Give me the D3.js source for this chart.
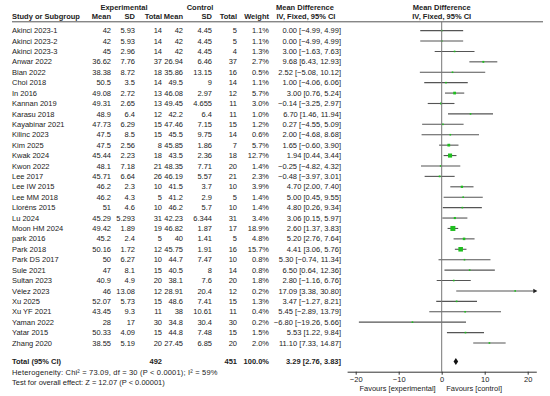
<!DOCTYPE html>
<html>
<head>
<meta charset="utf-8">
<script src="https://cdn.jsdelivr.net/npm/d3@7"></script>
<style>
  body { margin: 0; background: #fff; }
  text { font-family: "Liberation Sans", Arial, sans-serif; font-size: 7.5px; fill: #222; }
  .b { font-weight: bold; }
</style>
</head>
<body>
<div id="plot"></div>
<script>

// study rows
let studies = ["Akinci 2023-1", "Akinci 2023-2", "Akinci 2023-3", "Anwar 2022", "Bian 2022", "Choi 2018",
    "In 2016", "Kannan 2019", "Karasu 2018", "Kayabinar 2021", "Kilinc 2023", "Kim 2025", "Kwak 2024",
    "Kwon 2022", "Lee 2017", "Lee IW 2015", "Lee MM 2018", "Lloréns 2015", "Lu 2024", "Moon HM 2024",
    "park 2016", "Park 2018", "Park DS 2017", "Sule 2021", "Sultan 2023", "Vélez 2023", "Xu 2025",
    "Xu YF 2021", "Yaman 2022", "Yatar 2015", "Zhang 2020"];

let expMean = ["42", "42", "45", "36.62", "38.38", "50.5", "49.08", "49.31", "48.9", "47.73", "47.5", "47.5", "45.44",
    "48.1", "45.71", "46.2", "46.2", "51", "45.29", "49.42", "45.2", "50.16", "50", "47", "40.9", "46", "52.07",
    "43.45", "28", "50.33", "38.55"];
let expSD = ["5.93", "5.93", "2.96", "7.76", "8.72", "3.5", "2.72", "2.65", "6.4", "6.29", "8.5", "2.56", "2.23",
    "7.18", "6.64", "2.3", "4.3", "4.6", "5.293", "1.89", "2.4", "1.72", "6.27", "8.1", "4.9", "13.08", "5.73",
    "9.3", "17", "4.09", "5.19"];
let expTotal = [14, 14, 14, 37, 18, 14, 13, 13, 12, 15, 15, 8, 18, 21, 26, 10, 5, 10, 31, 19, 5, 12, 10, 15, 20, 12, 15, 11, 30, 15, 20];

let ctlMean = ["42", "42", "42", "26.94", "35.86", "49.5", "46.08", "49.45", "42.2", "47.46", "45.5", "45.85", "43.5",
    "48.35", "46.19", "41.5", "41.2", "46.2", "42.23", "46.82", "40", "45.75", "44.7", "40.5", "38.1", "28.91", "48.6",
    "38", "34.8", "44.8", "27.45"];
let ctlSD = ["4.45", "4.45", "4.45", "6.46", "13.15", "9", "2.97", "4.655", "6.4", "7.15", "9.75", "1.86", "2.36",
    "7.71", "5.57", "3.7", "2.9", "5.7", "6.344", "1.87", "1.41", "1.91", "7.47", "8", "7.6", "20.4", "7.41",
    "10.61", "30.4", "7.48", "6.85"];
let ctlTotal = [5, 5, 4, 37, 16, 14, 12, 11, 11, 15, 14, 7, 18, 20, 21, 10, 5, 10, 31, 17, 5, 16, 10, 14, 20, 12, 15, 11, 30, 15, 20];

let weights = [1.1, 1.1, 1.3, 2.7, 0.5, 1.1, 5.7, 3.0, 1.0, 1.2, 0.6, 5.7, 12.7, 1.4, 2.3, 3.9, 1.4, 1.4, 3.4, 18.9,
    4.8, 15.7, 0.8, 0.8, 1.8, 0.2, 1.3, 0.4, 0.2, 1.5, 2.0];

let md = [0.00, 0.00, 3.00, 9.68, 2.52, 1.00, 3.00, -0.14, 6.70, 0.27, 2.00, 1.65, 1.94, -0.25, -0.48, 4.70, 5.00,
    4.80, 3.06, 2.60, 5.20, 4.41, 5.30, 6.50, 2.80, 17.09, 3.47, 5.45, -6.80, 5.53, 11.10];
let lo = [-4.99, -4.99, -1.63, 6.43, -5.08, -4.06, 0.76, -3.25, 1.46, -4.55, -4.68, -0.60, 0.44, -4.82, -3.97, 2.00,
    0.45, 0.26, 0.15, 1.37, 2.76, 3.06, -0.74, 0.64, -1.16, 3.38, -1.27, -2.89, -19.26, 1.22, 7.33];
let hi = [4.99, 4.99, 7.63, 12.93, 10.12, 6.06, 5.24, 2.97, 11.94, 5.09, 8.68, 3.90, 3.44, 4.32, 3.01, 7.40, 9.55,
    9.34, 5.97, 3.83, 7.64, 5.76, 11.34, 12.36, 6.76, 30.80, 8.21, 13.79, 5.66, 9.84, 14.87];

let total = { exp: 492, ctl: 451, weight: "100.0%", md: 3.29, lo: 2.76, hi: 3.83 };
let heterogeneity = "Heterogeneity: Chi\u00b2 = 73.09, df = 30 (P < 0.0001); I\u00b2 = 59%";
let overall = "Test for overall effect: Z = 12.07 (P < 0.00001)";
let tickVals = [-20, -10, 0, 10, 20];

let width = 550, height = 396;
let svg = d3.select("#plot").append("svg")
    .attr("width", width)
    .attr("height", height);

let fmt = d3.format(".2f");
let ciText = (m, l, h) => fmt(m) + " [" + fmt(l) + ", " + fmt(h) + "]";

let y = d3.scaleLinear().domain([0, studies.length - 1]).range([30.6, 343]);
let x = d3.scaleLinear().domain([-22, 22]).range([441.7 - 22 * 4.3, 441.7 + 22 * 4.3]);

// column right edges
let cols = [
    { key: "expMean", x: 111, label: "Mean" },
    { key: "expSD", x: 135, label: "SD" },
    { key: "expTotal", x: 162, label: "Total" },
    { key: "ctlMean", x: 183, label: "Mean" },
    { key: "ctlSD", x: 212, label: "SD" },
    { key: "ctlTotal", x: 237, label: "Total" },
    { key: "weight", x: 269, label: "Weight" }
];
let colData = {
    expMean: expMean, expSD: expSD, expTotal: expTotal,
    ctlMean: ctlMean, ctlSD: ctlSD, ctlTotal: ctlTotal,
    weight: weights.map(w => w.toFixed(1) + "%")
};

// headers
let head = svg.append("g");
head.append("text").attr("class", "b").attr("x", 124).attr("y", 7.5).attr("dy", "0.35em")
    .attr("text-anchor", "middle").text("Experimental");
head.append("text").attr("class", "b").attr("x", 200).attr("y", 7.5).attr("dy", "0.35em")
    .attr("text-anchor", "middle").text("Control");
head.append("text").attr("class", "b").attr("x", 305).attr("y", 7.5).attr("dy", "0.35em")
    .attr("text-anchor", "middle").text("Mean Difference");
head.append("text").attr("class", "b").attr("x", 441.7).attr("y", 7.5).attr("dy", "0.35em")
    .attr("text-anchor", "middle").text("Mean Difference");
head.append("text").attr("class", "b").attr("x", 12).attr("y", 16.8).attr("dy", "0.35em")
    .text("Study or Subgroup");
cols.forEach(c => {
    head.append("text").attr("class", "b").attr("x", c.x).attr("y", 16.8).attr("dy", "0.35em")
        .attr("text-anchor", "end").text(c.label);
});
head.append("text").attr("class", "b").attr("x", 306).attr("y", 16.8).attr("dy", "0.35em")
    .attr("text-anchor", "middle").text("IV, Fixed, 95% CI");
head.append("text").attr("class", "b").attr("x", 441.7).attr("y", 16.8).attr("dy", "0.35em")
    .attr("text-anchor", "middle").text("IV, Fixed, 95% CI");

svg.append("line")
    .attr("x1", 12).attr("x2", 543)
    .attr("y1", 21.8).attr("y2", 21.8)
    .attr("stroke", "#555").attr("stroke-width", 1);

// study rows
let rows = svg.selectAll("g.row")
    .data(studies)
    .enter()
    .append("g")
    .attr("class", "row")
    .attr("transform", (d, i) => "translate(0," + y(i) + ")");

rows.append("text").attr("x", 12).attr("dy", "0.35em").text(d => d);
cols.forEach(c => {
    rows.append("text").attr("x", c.x).attr("dy", "0.35em")
        .attr("text-anchor", "end")
        .text((d, i) => colData[c.key][i]);
});
rows.append("text").attr("x", 341).attr("dy", "0.35em")
    .attr("text-anchor", "end")
    .text((d, i) => ciText(md[i], lo[i], hi[i]));

// zero line
svg.append("line")
    .attr("x1", x(0)).attr("x2", x(0))
    .attr("y1", 21.8).attr("y2", 371.7)
    .attr("stroke", "#777").attr("stroke-width", 1);

// CI lines
let xmax = x.domain()[1], xmin = x.domain()[0];
rows.append("line")
    .attr("x1", (d, i) => x(Math.max(lo[i], xmin)))
    .attr("x2", (d, i) => x(Math.min(hi[i], xmax)))
    .attr("y1", 0).attr("y2", 0)
    .attr("stroke", "#555").attr("stroke-width", 1.1);

// arrow for clipped intervals
rows.filter((d, i) => hi[i] > xmax)
    .append("path")
    .attr("d", "M" + (x(xmax) + 1) + ",0 L" + (x(xmax) - 3) + ",-2.2 L" + (x(xmax) - 3) + ",2.2 Z")
    .attr("fill", "#222");

// weight squares
let side = w => Math.max(1.6, 1.15 * Math.sqrt(w));
rows.append("rect")
    .attr("x", (d, i) => x(md[i]) - side(weights[i]) / 2)
    .attr("y", (d, i) => -side(weights[i]) / 2)
    .attr("width", (d, i) => side(weights[i]))
    .attr("height", (d, i) => side(weights[i]))
    .attr("fill", "#1fbf1f");

// total row
let ty = 361.5;
svg.append("text").attr("class", "b").attr("x", 12).attr("y", ty).attr("dy", "0.35em").text("Total (95% CI)");
svg.append("text").attr("class", "b").attr("x", 162).attr("y", ty).attr("dy", "0.35em").attr("text-anchor", "end").text(total.exp);
svg.append("text").attr("class", "b").attr("x", 237).attr("y", ty).attr("dy", "0.35em").attr("text-anchor", "end").text(total.ctl);
svg.append("text").attr("class", "b").attr("x", 269).attr("y", ty).attr("dy", "0.35em").attr("text-anchor", "end").text(total.weight);
svg.append("text").attr("class", "b").attr("x", 341).attr("y", ty).attr("dy", "0.35em").attr("text-anchor", "end")
    .text(ciText(total.md, total.lo, total.hi));

svg.append("path")
    .attr("d", "M" + x(total.lo) + "," + ty +
        " L" + x(total.md) + "," + (ty - 3.5) +
        " L" + x(total.hi) + "," + ty +
        " L" + x(total.md) + "," + (ty + 3.5) + " Z")
    .attr("fill", "#111");

svg.append("text").attr("x", 12).attr("y", 372.3).attr("dy", "0.35em")
    .style("letter-spacing", "0.18px").text(heterogeneity);
svg.append("text").attr("x", 12).attr("y", 382).attr("dy", "0.35em").text(overall);

// axis
let g = svg.append("g").attr("transform", "translate(0,371.7)");
g.call(d3.axisBottom(x).tickValues(tickVals).tickSize(3).tickSizeOuter(0).tickFormat(d3.format("")));
g.select(".domain").attr("stroke", "#333");
g.selectAll(".tick line").attr("stroke", "#333");
g.selectAll(".tick text").attr("y", 4.5).style("font-size", "7.5px").style("font-family", "Liberation Sans, Arial, sans-serif").attr("fill", "#222");

svg.append("text").attr("x", x(0) - 6).attr("y", 388).attr("dy", "0.35em")
    .attr("text-anchor", "end").text("Favours [experimental]");
svg.append("text").attr("x", x(0) + 4.5).attr("y", 388).attr("dy", "0.35em")
    .text("Favours [control]");

</script>
</body>
</html>
